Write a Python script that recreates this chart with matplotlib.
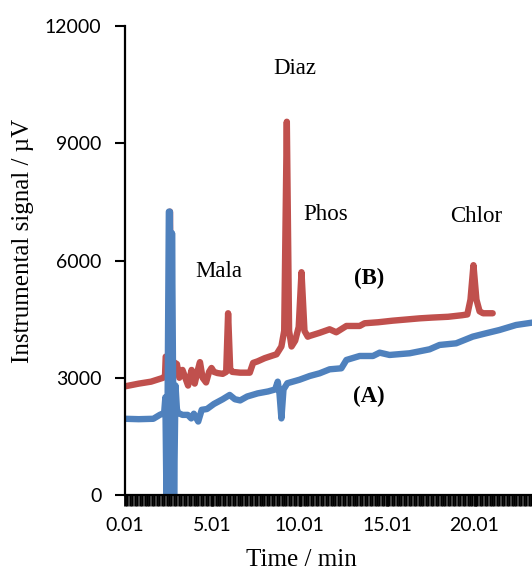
import matplotlib
matplotlib.use("Agg")
import matplotlib.pyplot as plt
import numpy as np

# Series (B) - red
time_b = [0.01, 0.8, 1.5, 2.2, 2.30, 2.34, 2.42, 2.50, 2.58, 2.66, 2.80, 2.98, 3.12, 3.30, 3.50, 3.62,
          3.82, 4.00, 4.15, 4.30, 4.45, 4.65, 4.82, 4.96, 5.10, 5.30, 5.60, 5.80, 5.91, 6.03,
          6.15, 6.6, 7.15, 7.34, 7.6, 8.0, 8.4, 8.68, 8.96, 9.12, 9.27, 9.40, 9.54, 9.75, 9.95,
          10.11, 10.28, 10.47, 10.58, 11.15, 11.72, 12.1, 12.68, 13.44, 13.72, 14.5, 15.32, 16.1,
          16.87, 17.6, 18.5, 19.3, 19.6, 19.78, 19.95, 20.12, 20.3, 20.5, 21.05]
signal_b = [2780, 2850, 2900, 3000, 3050, 3540, 3500, 3300, 7250, 3500, 3400, 3350, 3000, 3200, 2950, 2800,
            3200, 2850, 3150, 3400, 3000, 2880, 3150, 3250, 3150, 3120, 3100, 3150, 4650, 3200,
            3150, 3130, 3130, 3380, 3420, 3500, 3560, 3600, 3800, 4200, 9550, 4200, 3800, 3950, 4300,
            5700, 4200, 4050, 4070, 4150, 4240, 4163, 4325, 4325, 4394, 4420, 4460, 4490,
            4520, 4540, 4560, 4600, 4620, 5000, 5880, 5000, 4700, 4650, 4650]

# Series (A) - blue
time_a = [0.01, 0.8, 1.63, 2.0, 2.25, 2.32, 2.38, 2.45, 2.52, 2.58, 2.64, 2.70, 2.76, 2.82, 2.90,
          2.98, 3.05, 3.3, 3.6, 3.8, 3.95, 4.2, 4.4, 4.7, 5.1, 5.6, 6.0, 6.3, 6.6, 7.0, 7.6, 8.2,
          8.6, 8.75, 8.85, 8.96, 9.08, 9.3, 10.0, 10.58, 11.15, 11.72, 12.39, 12.68, 13.44, 14.2,
          14.58, 15.15, 16.3, 17.44, 18.01, 18.96, 19.91, 20.6, 21.44, 22.39, 23.3]
signal_a = [1950, 1940, 1950, 2050, 2100, 2500, 0, 2500, 7250, 7250, 0, 6700, 3000, 0, 2800,
            2200, 2100, 2050, 2050, 1960, 2080, 1880, 2180, 2200, 2330, 2450, 2560, 2450, 2420, 2520, 2600, 2650,
            2700, 2900, 2600, 1960, 2700, 2860, 2950, 3045, 3114, 3216, 3242, 3455, 3557, 3557,
            3642, 3583, 3626, 3728, 3839, 3881, 4052, 4130, 4222, 4350, 4410]

y_ticks = [0, 3000, 6000, 9000, 12000]
x_ticks = [0.01, 5.01, 10.01, 15.01, 20.01]
x_tick_labels = ["0.01", "5.01", "10.01", "15.01", "20.01"]

W, H = 532, 570
fig = plt.figure(figsize=(W / 100, H / 100), dpi=100)
ax = fig.add_axes([125 / W, 75 / H, (W - 125) / W, (495 - 26) / H])

ax.plot(time_b, signal_b, color="#C0504D", lw=4.6, solid_joinstyle="round", solid_capstyle="round")
ax.plot(time_a, signal_a, color="#4F81BD", lw=4.6, solid_joinstyle="round", solid_capstyle="round")

ax.set_xlim(0.01, 23.3)
ax.set_ylim(0, 12000)
ax.set_yticks(y_ticks)
ax.set_yticklabels([str(v) for v in y_ticks], fontfamily="Lato", fontsize=14)
ax.set_xticks(x_ticks)
ax.set_xticklabels(x_tick_labels, fontfamily="Lato", fontsize=14)
ax.set_xticks(np.arange(0.01, 23.3, 0.14), minor=True)

for s in ["top", "right"]:
    ax.spines[s].set_visible(False)
for s in ["left", "bottom"]:
    ax.spines[s].set_linewidth(1.6)
    ax.spines[s].set_color("black")

ax.tick_params(axis="y", direction="out", length=7, width=1.5, pad=10)
ax.tick_params(axis="x", which="major", direction="out", length=8, width=2, pad=8)
ax.tick_params(axis="x", which="minor", direction="out", length=8, width=1.8)

serif = "Liberation Serif"
def px2x(px):
    return (px - 125) / 17.5 + 0.01
def px2y(py):
    return (495 - py) * 12000 / 469

ax.text(px2x(294.7), px2y(74), "Diaz", family=serif, fontsize=16.5, ha="center", va="baseline")
ax.text(px2x(326), px2y(220), "Phos", family=serif, fontsize=16.5, ha="center", va="baseline")
ax.text(px2x(219), px2y(277), "Mala", family=serif, fontsize=16.5, ha="center", va="baseline")
ax.text(px2x(476.7), px2y(222), "Chlor", family=serif, fontsize=16.5, ha="center", va="baseline")
ax.text(px2x(369.5), px2y(284), "(B)", family=serif, fontsize=16.5, fontweight="bold", ha="center", va="baseline")
ax.text(px2x(369.5), px2y(402), "(A)", family=serif, fontsize=16.5, fontweight="bold", ha="center", va="baseline")

fig.text(23 / W, 1 - 241 / H, "Instrumental signal / µV", family=serif, fontsize=18,
         rotation=90, ha="center", va="center")
fig.text(301.7 / W, 1 - 566 / H, "Time / min", family=serif, fontsize=18, ha="center", va="baseline")

fig.savefig("out.png", dpi=100)
